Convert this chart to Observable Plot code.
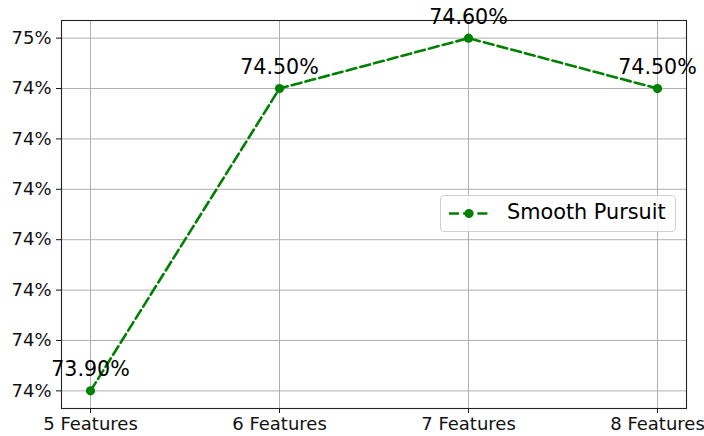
<!DOCTYPE html>
<html>
<head>
<meta charset="utf-8">
<script src="https://cdn.jsdelivr.net/npm/d3@7"></script>
<script src="https://cdn.jsdelivr.net/npm/@observablehq/plot@0.6"></script>
<style>
  html, body { margin: 0; padding: 0; background: white; }
  #wrap { position: relative; width: 704px; height: 436px; overflow: hidden; }
  #legend {
    position: absolute; left: 440px; top: 195px; width: 234px; height: 35px;
    border: 1px solid #d0d0d0; border-radius: 4px; background: rgba(255,255,255,0.85);
    font-family: "DejaVu Sans", sans-serif; font-size: 20.8px; color: #000;
  }
  #legend svg { position: absolute; left: 7px; top: 0; }
  #legend span { position: absolute; left: 66px; top: 4px; white-space: nowrap; }
</style>
</head>
<body>
<div id="wrap"></div>
<script>
const categories = ["5 Features", "6 Features", "7 Features", "8 Features"];
const accuracy = [73.9, 74.5, 74.6, 74.5];
const pointLabels = ["73.90%", "74.50%", "74.60%", "74.50%"];
const yTicks = [73.9, 74.0, 74.1, 74.2, 74.3, 74.4, 74.5, 74.6];
const yTickLabels = ["74%", "74%", "74%", "74%", "74%", "74%", "74%", "75%"];
const seriesName = "Smooth Pursuit";
const color = "green";

const data = categories.map((c, i) => ({cat: c, val: accuracy[i], label: pointLabels[i]}));

const chart = Plot.plot({
  width: 704,
  height: 436,
  marginLeft: 61,
  marginRight: 18,
  marginTop: 20,
  marginBottom: 28,
  style: {fontFamily: "DejaVu Sans, sans-serif", fontSize: "18px", color: "#111", background: "transparent", overflow: "visible"},
  x: {type: "point", domain: categories, padding: 0.15, label: null, tickSize: 5, tickPadding: 4},
  y: {domain: [73.865, 74.635], label: null, ticks: yTicks, tickFormat: d => yTickLabels[yTicks.indexOf(d)], tickSize: 5, tickPadding: 5},
  marks: [
    Plot.gridX(categories, {stroke: "#b0b0b0", strokeOpacity: 1, strokeWidth: 1}),
    Plot.gridY(yTicks, {stroke: "#b0b0b0", strokeOpacity: 1, strokeWidth: 1}),
    Plot.frame({stroke: "#222", strokeWidth: 1.1}),
    Plot.line(data, {x: "cat", y: "val", stroke: color, strokeWidth: 2.6, strokeDasharray: "10,4.2"}),
    Plot.dot(data, {x: "cat", y: "val", r: 4.6, fill: color, stroke: "none"}),
    Plot.text(data, {x: "cat", y: "val", text: "label", dy: -21, fontSize: 20.6, fill: "#000"})
  ]
});
const wrap = document.getElementById("wrap");
wrap.appendChild(chart);

const legend = document.createElement("div");
legend.id = "legend";
legend.innerHTML = `<svg width="46" height="35">
  <line x1="1" x2="41" y1="17.5" y2="17.5" stroke="${color}" stroke-width="2.6" stroke-dasharray="10,4.2"/>
  <circle cx="21" cy="17.5" r="4.6" fill="${color}"/>
</svg><span>${seriesName}</span>`;
wrap.appendChild(legend);
</script>
</body>
</html>
